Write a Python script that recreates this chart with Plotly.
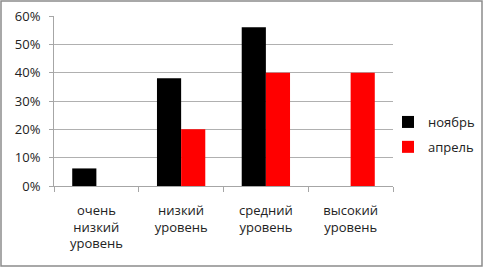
import plotly.graph_objects as go

categories = ["очень<br>низкий<br>уровень", "низкий<br>уровень", "средний<br>уровень", "высокий<br>уровень"]
november = [0.062, 0.38, 0.56, 0.0]
april = [0.0, 0.20, 0.40, 0.40]
y_ticks = [0, 0.1, 0.2, 0.3, 0.4, 0.5, 0.6]
y_tick_labels = ["0%", "10%", "20%", "30%", "40%", "50%", "60%"]

W, H = 485, 268
L, R, T, B = 54, 92, 16, 82
pw, ph = W - L - R, H - T - B

def px_x(x):
    return (x - L) / pw

def px_y(y):
    return (H - B - y) / ph

font = "Open Sans"
fig = go.Figure()
fig.add_trace(go.Bar(x=categories, y=november, name="ноябрь", marker_color="#000000",
                     marker_line_width=0, legendgroup="a"))
fig.add_trace(go.Bar(x=categories, y=april, name="апрель", marker_color="#ff0000",
                     marker_line_width=0, legendgroup="b"))

fig.update_layout(
    width=W, height=H,
    margin=dict(l=L, r=R, t=T, b=B, pad=0, autoexpand=False),
    paper_bgcolor="white", plot_bgcolor="white",
    barmode="group", bargap=0.43, bargroupgap=0,
    font=dict(family=font, size=13, color="#222222"),
    legend=dict(xref="container", yref="container",
                x=388 / W, y=(H - 107) / H, xanchor="left", yanchor="top",
                font=dict(size=13, color="#222222"), tracegroupgap=5,
                itemwidth=30, bgcolor="rgba(0,0,0,0)"),
    xaxis=dict(showline=True, linecolor="#a6a6a6", linewidth=1,
               ticks="outside", tickson="boundaries", ticklen=5, tickcolor="#a6a6a6",
               showgrid=False, ticklabelstandoff=12,
               tickfont=dict(size=13, color="#222222")),
    yaxis=dict(range=[0, 0.6], tickvals=y_ticks, ticktext=y_tick_labels,
               showline=True, linecolor="#a6a6a6", linewidth=1,
               ticks="outside", ticklen=4, tickcolor="#a6a6a6",
               showgrid=True, gridcolor="#b0b0b0", gridwidth=1,
               ticklabelstandoff=6,
               zeroline=False, tickfont=dict(size=13, color="#222222")),
    shapes=[dict(type="rect", xref="paper", yref="paper",
                 x0=px_x(1), x1=px_x(482), y0=px_y(266), y1=px_y(1),
                 line=dict(color="#8c8c8c", width=1.5), fillcolor="rgba(0,0,0,0)",
                 layer="below")],
)

fig.write_html("out.html")
